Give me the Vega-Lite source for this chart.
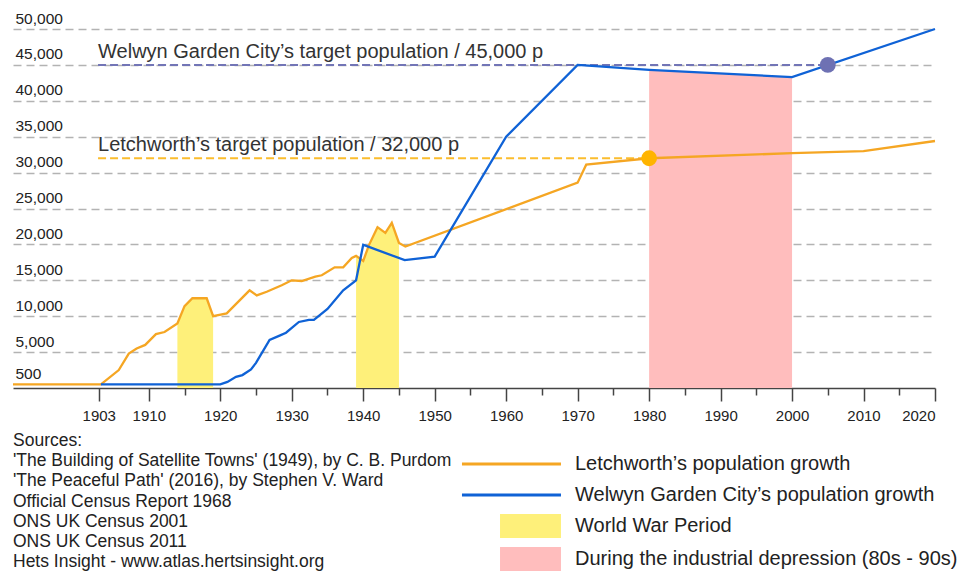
{
  "$schema": "https://vega.github.io/schema/vega-lite/v6.json",
  "width": 922,
  "height": 359,
  "autosize": {"type": "none"},
  "padding": {"left": 13, "top": 29, "right": 24, "bottom": 183},
  "background": "white",
  "config": {
    "font": "Liberation Sans",
    "view": {"stroke": null},
    "axisX": {"labelFontSize": 15, "labelColor": "#222", "labelPadding": 7},
    "axisY": {"labelFontSize": 15.5, "labelColor": "#222"}
  },
  "title": {
    "text": ["Sources:", "'The Building of Satellite Towns' (1949), by C. B. Purdom", "'The Peaceful Path' (2016), by Stephen V. Ward", "Official Census Report 1968", "ONS UK Census 2001", "ONS UK Census 2011", "Hets Insight - www.atlas.hertsinsight.org"],
    "orient": "bottom",
    "anchor": "start",
    "frame": "group",
    "fontSize": 17.5,
    "fontWeight": "normal",
    "color": "#222",
    "lineHeight": 20.2,
    "offset": 10,
    "dy": -149
  },
  "datasets": {
    "lines": [
      {"year": 1891, "pop": 500, "category": "Letchworth’s population growth"},
      {"year": 1903.3, "pop": 500, "category": "Letchworth’s population growth"},
      {"year": 1905.8, "pop": 2500, "category": "Letchworth’s population growth"},
      {"year": 1907.2, "pop": 4800, "category": "Letchworth’s population growth"},
      {"year": 1908.3, "pop": 5500, "category": "Letchworth’s population growth"},
      {"year": 1909.5, "pop": 6000, "category": "Letchworth’s population growth"},
      {"year": 1911, "pop": 7500, "category": "Letchworth’s population growth"},
      {"year": 1912.2, "pop": 7800, "category": "Letchworth’s population growth"},
      {"year": 1914, "pop": 9000, "category": "Letchworth’s population growth"},
      {"year": 1915, "pop": 11400, "category": "Letchworth’s population growth"},
      {"year": 1916.1, "pop": 12500, "category": "Letchworth’s population growth"},
      {"year": 1918.1, "pop": 12500, "category": "Letchworth’s population growth"},
      {"year": 1919, "pop": 10000, "category": "Letchworth’s population growth"},
      {"year": 1920.9, "pop": 10400, "category": "Letchworth’s population growth"},
      {"year": 1924.1, "pop": 13600, "category": "Letchworth’s population growth"},
      {"year": 1925.1, "pop": 12900, "category": "Letchworth’s population growth"},
      {"year": 1926.5, "pop": 13400, "category": "Letchworth’s population growth"},
      {"year": 1928.6, "pop": 14300, "category": "Letchworth’s population growth"},
      {"year": 1930, "pop": 15000, "category": "Letchworth’s population growth"},
      {"year": 1931.4, "pop": 14900, "category": "Letchworth’s population growth"},
      {"year": 1933.3, "pop": 15500, "category": "Letchworth’s population growth"},
      {"year": 1934.2, "pop": 15700, "category": "Letchworth’s population growth"},
      {"year": 1936, "pop": 16800, "category": "Letchworth’s population growth"},
      {"year": 1937.2, "pop": 16800, "category": "Letchworth’s population growth"},
      {"year": 1938.4, "pop": 18100, "category": "Letchworth’s population growth"},
      {"year": 1939, "pop": 18400, "category": "Letchworth’s population growth"},
      {"year": 1940, "pop": 17700, "category": "Letchworth’s population growth"},
      {"year": 1940.8, "pop": 19900, "category": "Letchworth’s population growth"},
      {"year": 1942, "pop": 22400, "category": "Letchworth’s population growth"},
      {"year": 1943.1, "pop": 21600, "category": "Letchworth’s population growth"},
      {"year": 1944, "pop": 23000, "category": "Letchworth’s population growth"},
      {"year": 1945, "pop": 20200, "category": "Letchworth’s population growth"},
      {"year": 1945.9, "pop": 19700, "category": "Letchworth’s population growth"},
      {"year": 1970, "pop": 28600, "category": "Letchworth’s population growth"},
      {"year": 1971.2, "pop": 31100, "category": "Letchworth’s population growth"},
      {"year": 1980, "pop": 32000, "category": "Letchworth’s population growth"},
      {"year": 2000, "pop": 32700, "category": "Letchworth’s population growth"},
      {"year": 2010, "pop": 33000, "category": "Letchworth’s population growth"},
      {"year": 2020, "pop": 34400, "category": "Letchworth’s population growth"},
      {"year": 1903.3, "pop": 500, "category": "Welwyn Garden City’s population growth"},
      {"year": 1920, "pop": 500, "category": "Welwyn Garden City’s population growth"},
      {"year": 1921, "pop": 850, "category": "Welwyn Garden City’s population growth"},
      {"year": 1922.2, "pop": 1550, "category": "Welwyn Garden City’s population growth"},
      {"year": 1923.1, "pop": 1800, "category": "Welwyn Garden City’s population growth"},
      {"year": 1924.3, "pop": 2600, "category": "Welwyn Garden City’s population growth"},
      {"year": 1925, "pop": 3500, "category": "Welwyn Garden City’s population growth"},
      {"year": 1926.9, "pop": 6700, "category": "Welwyn Garden City’s population growth"},
      {"year": 1928.3, "pop": 7300, "category": "Welwyn Garden City’s population growth"},
      {"year": 1929.2, "pop": 7700, "category": "Welwyn Garden City’s population growth"},
      {"year": 1931, "pop": 9200, "category": "Welwyn Garden City’s population growth"},
      {"year": 1932.4, "pop": 9500, "category": "Welwyn Garden City’s population growth"},
      {"year": 1933.1, "pop": 9500, "category": "Welwyn Garden City’s population growth"},
      {"year": 1935, "pop": 11000, "category": "Welwyn Garden City’s population growth"},
      {"year": 1937.2, "pop": 13600, "category": "Welwyn Garden City’s population growth"},
      {"year": 1939, "pop": 15000, "category": "Welwyn Garden City’s population growth"},
      {"year": 1940, "pop": 19950, "category": "Welwyn Garden City’s population growth"},
      {"year": 1940.7, "pop": 19700, "category": "Welwyn Garden City’s population growth"},
      {"year": 1945.8, "pop": 17800, "category": "Welwyn Garden City’s population growth"},
      {"year": 1950, "pop": 18300, "category": "Welwyn Garden City’s population growth"},
      {"year": 1960, "pop": 35000, "category": "Welwyn Garden City’s population growth"},
      {"year": 1970, "pop": 45000, "category": "Welwyn Garden City’s population growth"},
      {"year": 1980, "pop": 44300, "category": "Welwyn Garden City’s population growth"},
      {"year": 2000, "pop": 43300, "category": "Welwyn Garden City’s population growth"},
      {"year": 2020, "pop": 50000, "category": "Welwyn Garden City’s population growth"}
    ],
    "areas": [
      {"year": 1914, "pop": 9000, "category": "World War Period", "period": "WW1"},
      {"year": 1915, "pop": 11400, "category": "World War Period", "period": "WW1"},
      {"year": 1916.1, "pop": 12500, "category": "World War Period", "period": "WW1"},
      {"year": 1918.1, "pop": 12500, "category": "World War Period", "period": "WW1"},
      {"year": 1919, "pop": 10000, "category": "World War Period", "period": "WW1"},
      {"year": 1939, "pop": 18400, "category": "World War Period", "period": "WW2"},
      {"year": 1940, "pop": 17700, "category": "World War Period", "period": "WW2"},
      {"year": 1940.8, "pop": 19900, "category": "World War Period", "period": "WW2"},
      {"year": 1942, "pop": 22400, "category": "World War Period", "period": "WW2"},
      {"year": 1943.1, "pop": 21600, "category": "World War Period", "period": "WW2"},
      {"year": 1944, "pop": 23000, "category": "World War Period", "period": "WW2"},
      {"year": 1945, "pop": 20200, "category": "World War Period", "period": "WW2"},
      {"year": 1980, "pop": 44300, "category": "During the industrial depression (80s - 90s)", "period": "Depression"},
      {"year": 2000, "pop": 43300, "category": "During the industrial depression (80s - 90s)", "period": "Depression"}
    ],
    "targets": [
      {"town": "Welwyn", "start": 1902.9, "end": 2005, "pop": 45000, "label": "Welwyn Garden City’s target population / 45,000 p"},
      {"town": "Letchworth", "start": 1902.9, "end": 1980, "pop": 32000, "label": "Letchworth’s target population / 32,000 p"}
    ]
  },
  "encoding": {
    "x": {
      "type": "quantitative",
      "scale": {"domain": [1891, 2020], "nice": false, "zero": false},
      "axis": {
        "values": [1903, 1910, 1915, 1920, 1925, 1930, 1935, 1940, 1945, 1950, 1955, 1960, 1965, 1970, 1975, 1980, 1985, 1990, 1995, 2000, 2005, 2010, 2015, 2020],
        "format": "d",
        "labelExpr": "(datum.value % 10 === 0 || datum.value === 1903) ? datum.label : ''",
        "tickSize": {"condition": {"test": "datum.value % 10 !== 0 && datum.value !== 1903", "value": 7}, "value": 13},
        "labelPadding": 7,
        "labelFontSize": 15,
        "labelColor": "#222",
        "domainColor": "#444",
        "domainWidth": 1.5,
        "tickColor": "#444",
        "tickWidth": 1.5,
        "grid": false,
        "title": null
      }
    },
    "y": {
      "type": "quantitative",
      "scale": {"domain": [0, 50000], "nice": false},
      "axis": {
        "values": [500, 5000, 10000, 15000, 20000, 25000, 30000, 35000, 40000, 45000, 50000],
        "format": ",d",
        "domain": false,
        "ticks": false,
        "tickSize": 0,
        "labelAlign": "left",
        "labelPadding": -2,
        "labelBaseline": "alphabetic",
        "labelOffset": -6,
        "labelFontSize": 15.5,
        "labelColor": "#222",
        "grid": true,
        "gridDash": [8, 5],
        "gridColor": "#b3b3b3",
        "gridWidth": 1.3,
        "gridOpacity": {"condition": {"test": "datum.value === 500", "value": 0}, "value": 1},
        "title": null
      }
    }
  },
  "layer": [
    {
      "data": {"name": "areas"},
      "mark": {"type": "area", "opacity": 1},
      "encoding": {
        "x": {"field": "year", "type": "quantitative"},
        "y": {"field": "pop", "type": "quantitative", "stack": null},
        "detail": {"field": "period", "type": "nominal"},
        "color": {"field": "category", "type": "nominal"}
      }
    },
    {
      "data": {"name": "targets"},
      "transform": [{"filter": "datum.town === 'Welwyn'"}],
      "mark": {"type": "rule", "color": "#7275b6", "strokeWidth": 2, "strokeDash": [8, 4]},
      "encoding": {
        "x": {"field": "start", "type": "quantitative"},
        "x2": {"field": "end"},
        "y": {"field": "pop", "type": "quantitative"}
      }
    },
    {
      "data": {"name": "targets"},
      "transform": [{"filter": "datum.town === 'Letchworth'"}],
      "mark": {"type": "rule", "color": "#fbbd2e", "strokeWidth": 2, "strokeDash": [8, 4]},
      "encoding": {
        "x": {"field": "start", "type": "quantitative"},
        "x2": {"field": "end"},
        "y": {"field": "pop", "type": "quantitative"}
      }
    },
    {
      "data": {"name": "lines"},
      "mark": {"type": "line", "strokeWidth": 2.3},
      "encoding": {
        "x": {"field": "year", "type": "quantitative"},
        "y": {"field": "pop", "type": "quantitative"},
        "color": {
          "field": "category",
          "type": "nominal",
          "scale": {
            "domain": ["Letchworth’s population growth", "Welwyn Garden City’s population growth", "World War Period", "During the industrial depression (80s - 90s)"],
            "range": ["#f5a623", "#0f62d6", "#fef07a", "#ffbdbd"]
          },
          "legend": {
            "orient": "none",
            "legendX": 505.5,
            "legendY": 423,
            "title": null,
            "symbolSize": 576,
            "rowPadding": 9,
            "labelOffset": 32.5,
            "labelFontSize": 20,
            "labelColor": "#222",
            "labelLimit": 600,
            "encode": {
              "symbols": {
                "update": {
                  "shape": [
                    {"test": "datum.label === 'World War Period' || indexof(datum.label, 'depression') >= 0", "value": "M-2.54,-1H2.54V1H-2.54Z"},
                    {"value": "M-5.71,-0.125H2.54V0.125H-5.71Z"}
                  ],
                  "fill": {"scale": "color", "field": "value"},
                  "stroke": {"value": "transparent"},
                  "strokeWidth": {"value": 0},
                  "opacity": {"value": 1},
                  "fillOpacity": {"value": 1},
                  "size": {"value": 576}
                }
              }
            }
          }
        }
      }
    },
    {
      "data": {"name": "targets"},
      "transform": [{"filter": "datum.town === 'Welwyn'"}],
      "mark": {"type": "circle", "color": "#6e71b3", "size": 250, "opacity": 1},
      "encoding": {
        "x": {"field": "end", "type": "quantitative"},
        "y": {"field": "pop", "type": "quantitative"}
      }
    },
    {
      "data": {"name": "targets"},
      "transform": [{"filter": "datum.town === 'Letchworth'"}],
      "mark": {"type": "circle", "color": "#ffb400", "size": 250, "opacity": 1},
      "encoding": {
        "x": {"field": "end", "type": "quantitative"},
        "y": {"field": "pop", "type": "quantitative"}
      }
    },
    {
      "data": {"name": "targets"},
      "mark": {"type": "text", "align": "left", "baseline": "alphabetic", "dy": -7, "fontSize": 20, "color": "#333"},
      "encoding": {
        "x": {"field": "start", "type": "quantitative"},
        "y": {"field": "pop", "type": "quantitative"},
        "text": {"field": "label"}
      }
    }
  ]
}
